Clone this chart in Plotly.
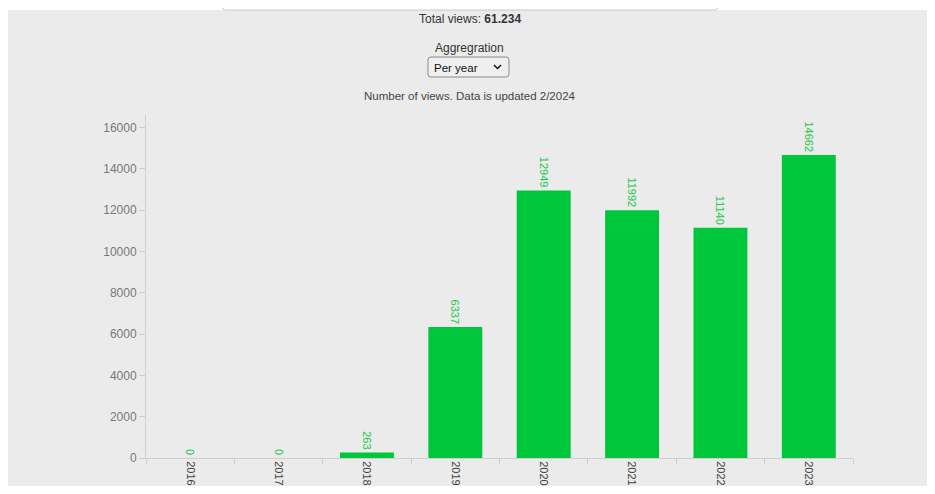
import plotly.graph_objects as go

years = ["2016", "2017", "2018", "2019", "2020", "2021", "2022", "2023"]
views = [0, 0, 263, 6337, 12949, 11992, 11140, 14662]
y_ticks = [0, 2000, 4000, 6000, 8000, 10000, 12000, 14000, 16000]

BAR = "#00c63c"
TXT = "#22c94a"
FONT = "Liberation Sans, Arial, sans-serif"

# window pixel -> paper coordinates (page body has an 8px margin)
L, R, T, B = 146, 853, 115, 458
def px(p):
    return (p - L) / (R - L)
def py(p):
    return (B - p) / (B - T)

fig = go.Figure(go.Bar(
    x=years, y=views, marker=dict(color=BAR, line=dict(width=0)),
    text=[str(v) for v in views], textposition="outside", textangle=90,
    textfont=dict(color=TXT, size=11, family=FONT), cliponaxis=False,
    constraintext="none", hoverinfo="skip",
))

def rounded_rect(x0, y0, x1, y1, r):
    return ("M %f %f L %f %f Q %f %f %f %f L %f %f Q %f %f %f %f "
            "L %f %f Q %f %f %f %f L %f %f Q %f %f %f %f Z") % (
        px(x0 + r), py(y0), px(x1 - r), py(y0), px(x1), py(y0), px(x1), py(y0 + r),
        px(x1), py(y1 - r), px(x1), py(y1), px(x1 - r), py(y1),
        px(x0 + r), py(y1), px(x0), py(y1), px(x0), py(y1 - r),
        px(x0), py(y0 + r), px(x0), py(y0), px(x0 + r), py(y0))

fig.update_layout(
    width=927, height=478,
    margin=dict(l=L - 8, r=935 - R, t=T - 8, b=486 - B, autoexpand=False),
    paper_bgcolor="#ebebeb", plot_bgcolor="#ebebeb",
    bargap=0.39, showlegend=False,
    font=dict(family=FONT, size=12, color="#333"),
    xaxis=dict(type="category", showgrid=False, showline=True, linecolor="#cfcfcf", linewidth=1,
               ticks="outside", tickson="boundaries", ticklen=5, tickcolor="#cfcfcf",
               tickangle=90, tickfont=dict(size=11, color="#444"), zeroline=False,
               automargin=False),
    yaxis=dict(range=[0, 16600], tickvals=y_ticks, ticktext=[str(v) for v in y_ticks],
               showgrid=False, showline=True, automargin=False,
               linecolor="#cfcfcf", linewidth=1, ticks="outside", ticklen=6, tickcolor="#cfcfcf",
               tickfont=dict(size=12, color="#777"), zeroline=False),
    shapes=[
        dict(type="rect", xref="paper", yref="paper", x0=px(0), x1=px(935), y0=py(10), y1=py(0),
             fillcolor="white", line=dict(width=0), layer="below"),
        dict(type="path", xref="paper", yref="paper",
             path="M %f %f L %f %f Q %f %f %f %f L %f %f Q %f %f %f %f L %f %f" % (
                 px(222), py(0), px(222), py(6), px(222), py(10), px(226), py(10),
                 px(714), py(10), px(718), py(10), px(718), py(6), px(718), py(0)),
             line=dict(color="#c8c8c8", width=1)),
        dict(type="path", xref="paper", yref="paper", path=rounded_rect(428, 57, 509, 77, 3),
             fillcolor="#efefef", line=dict(color="#8a8a8a", width=1)),
        dict(type="path", xref="paper", yref="paper",
             path="M %f %f L %f %f L %f %f" % (px(494), py(65), px(497.5), py(68.5), px(501), py(65)),
             line=dict(color="#111", width=1.5)),
    ],
    annotations=[
        dict(text="Total views: <b>61.234</b>", xref="paper", yref="paper",
             x=px(470), y=py(19), yanchor="middle", showarrow=False,
             font=dict(size=12, color="#333")),
        dict(text="Aggregration", xref="paper", yref="paper",
             x=px(469), y=py(48), yanchor="middle", showarrow=False,
             font=dict(size=12, color="#333")),
        dict(text="Per year", xref="paper", yref="paper", xanchor="left",
             x=px(432), y=py(68), yanchor="middle", showarrow=False,
             font=dict(size=11.5, color="#111")),
        dict(text="Number of views. Data is updated 2/2024", xref="paper", yref="paper",
             x=px(470), y=py(96), yanchor="middle", showarrow=False,
             font=dict(size=11.5, color="#444")),
    ],
)

fig.write_html("out.html")
